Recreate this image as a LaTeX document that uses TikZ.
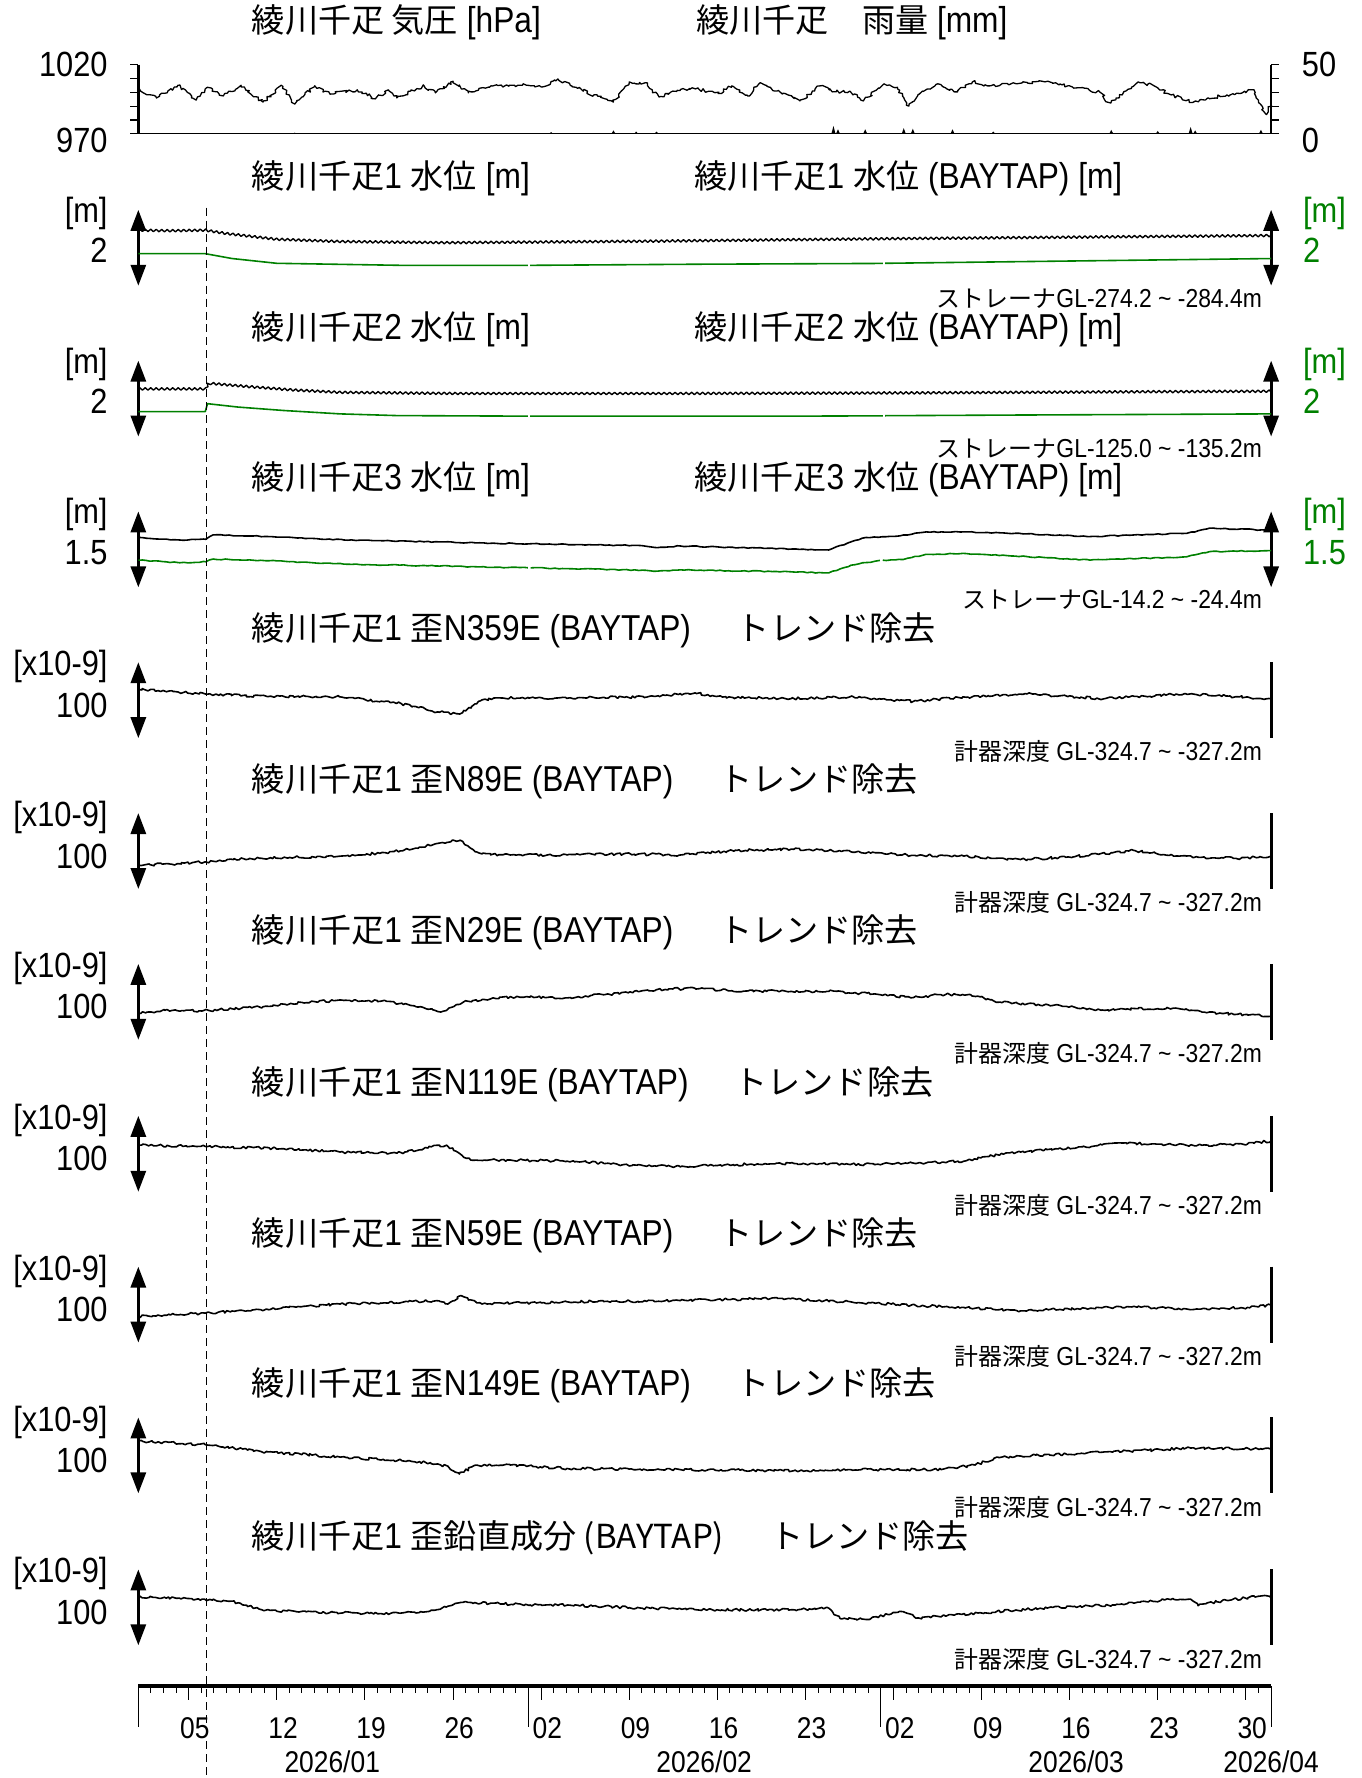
\documentclass[tikz,border=0pt]{standalone}
\usepackage{fontspec}
\setmainfont{Liberation Sans}[FakeStretch=0.88]
\newfontfamily\jp{Noto Sans CJK JP}[Scale=0.92]
\usetikzlibrary{arrows.meta,decorations.pathmorphing}
\definecolor{bgreen}{RGB}{0,128,0}
\begin{document}
\begin{tikzpicture}[x=1.13406pt,y=-1.13406pt,
  ttl/.style={anchor=west,inner sep=0,font=\fontsize{36}{40}\selectfont},
  lab/.style={anchor=east,inner sep=0,font=\fontsize{35}{40}\selectfont},
  rlab/.style={anchor=west,inner sep=0,font=\fontsize{35}{40}\selectfont},
  note/.style={anchor=east,inner sep=0,font=\fontsize{26}{30}\selectfont},
  dlab/.style={inner sep=0,font=\fontsize{30}{34}\selectfont},
  dbl/.style={line width=3pt,{Triangle[width=15pt,length=21pt]}-{Triangle[width=15pt,length=21pt]}},
  trc/.style={line width=1.6pt,line join=round},
  jag/.style={decorate,decoration={random steps,segment length=2.5pt,amplitude=1.3pt}},
  soft/.style={decorate,decoration={random steps,segment length=4pt,amplitude=0.5pt}},
  tide/.style={decorate,decoration={zigzag,segment length=5.5pt,amplitude=1.2pt}}]
\useasboundingbox (0,0) rectangle (1201,1568);
\pgfmathsetseed{11}

% pressure and rain
\node[ttl] (p0a) at (222,20) {{\jp 綾川千疋 気圧} [hPa]};
\node[ttl] (p0b) at (614,20) {{\jp 綾川千疋　雨量} [mm]};
\node[lab] (p0l1) at (95,57) {1020};
\node[lab] (p0l2) at (95,124) {970};
\node[rlab] (p0r1) at (1148,57) {50};
\node[rlab] (p0r2) at (1148,124) {0};
\draw[line width=2.5pt] (122,57) -- (122,118);
\draw[line width=2.5pt] (1121,57) -- (1121,118);
\foreach \y in {57,69.2,81.4,93.6,105.8,118}{
  \draw[line width=1.2pt] (115,\y) -- (122,\y);
  \draw[line width=1.2pt] (1121,\y) -- (1128,\y);
}
\draw[line width=1.3pt] (122,118) -- (1121,118);
\foreach \x/\h in {260/1,486/1.5,541/3,561/2,579/2,735/7,739/4,763/4,797/5,805/4.5,840/4,876/2,980/3.5,1021/2.5,1050/6,1054/3,1112/3.5}
  \fill (\x-1.8,118) -- (\x,118-\h) -- (\x+1.8,118) -- cycle;
\draw[trc,line width=1.3pt,jag,decoration={amplitude=1.7pt,segment length=2.2pt}] plot coordinates {(122,77) (124,80.3) (138,86.4) (148,80.3) (157.5,75.2) (173,88.3) (183,77) (197,84.6) (212.6,75.2) (232,90) (248,75.2) (260,91.8) (277.6,75.7) (291,83) (315,79.2) (331,87.2) (342.5,79.2) (350,86.4) (374,75.7) (384,81.9) (399.6,71.7) (413,81.9) (433,75.7) (456.7,75.2) (482,75.7) (492,69.6) (508,77) (523.6,83.7) (541,90) (555,72.2) (569,73) (581.2,85.6) (597.2,79.7) (613.3,78.4) (633.3,82.4) (645.3,75.7) (659.3,84.6) (669.3,73.9) (685.3,80.3) (705.4,89) (723.4,75.7) (737.4,81) (749.4,80.3) (761.4,89) (779.5,73.9) (791.5,77) (801.5,93.6) (813.5,80.3) (825.5,74.4) (841.5,81) (857.6,72.2) (873.6,75.7) (893.6,73) (921.6,72.2) (941.7,75.7) (969.7,81) (977.7,90.4) (989.7,83.7) (1003.7,72.2) (1017.8,75.7) (1029.8,82.4) (1051.8,90.4) (1065.8,86.4) (1093.9,82.4) (1105.9,79.2) (1109.9,90.4) (1117,101) (1121,91.8)};

% water level panels
\foreach \k/\T/\v/\n in {1/157/2/{274.2 \textasciitilde{} -284.4m},2/290/2/{125.0 \textasciitilde{} -135.2m},3/423/1.5/{14.2 \textasciitilde{} -24.4m}}{
  \node[ttl] (w\k a) at (222,\T) {{\jp 綾川千疋}\k{} {\jp 水位} [m]};
  \node[ttl] (w\k b) at (612,\T) {{\jp 綾川千疋}\k{} {\jp 水位} (BAYTAP) [m]};
  \node[lab] (w\k u) at (95,\T+31) {[m]};
  \node[lab] (w\k v) at (95,\T+64) {\v};
  \node[rlab,text=bgreen] (w\k gu) at (1149,\T+31) {[m]};
  \node[rlab,text=bgreen] (w\k gv) at (1149,\T+64) {\v};
  \draw[dbl] (122,\T+28) -- (122,\T+95);
  \draw[dbl] (1121,\T+28) -- (1121,\T+95);
  \node[note] (w\k n) at (1113,\T+106) {{\jp ストレーナ}GL-\n};
}
\draw[trc,line width=1.4pt,tide] plot coordinates {(122,203) (150,203.5) (181,203) (200,206) (244,211) (300,213) (394,214) (466,213.5) (573,212.7) (773,210.6) (974,208.9) (1121,207.7)};
\draw[trc,bgreen] plot coordinates {(122,223.7) (181,223.7) (204.7,228) (244,232.2) (354,234) (465.5,234)}
  plot coordinates {(467.5,234) (617,233) (778.5,232.3)}
  plot coordinates {(780.5,232.2) (1121,228)};
\draw[trc,line width=1.4pt,tide] plot coordinates {(122,343) (181,343) (184,338) (220,341) (260,344) (300,346) (400,347) (600,347) (800,346.5) (1000,345.5) (1121,345)};
\draw[trc,bgreen] plot coordinates {(122,363) (181,363) (183,356) (210,359) (250,362) (300,365) (350,366.5) (465.5,367)}
  plot coordinates {(467.5,367) (700,367) (778.5,366.7)}
  plot coordinates {(780.5,366.6) (900,366) (1121,365)};
\draw[trc,soft] plot coordinates {(122,474) (158.4,476.2) (181.5,475.6) (188,471.7) (237.4,473.2) (303.2,476.2) (434.8,479) (566.4,481.2) (579.6,483) (600,481.5) (698,484.2) (730.9,485) (747.3,479) (763.8,474) (793.4,472.6) (813,469.6) (842.8,468.8) (895.4,470.3) (961.2,473.2) (1046.7,470.3) (1066.5,465.8) (1112.5,467.3) (1121,466.7)};
\draw[trc,bgreen,soft] plot coordinates {(122,494) (158.4,496.3) (181.5,495.4) (188,493) (237.4,494.5) (303.2,497.5) (465.5,500.7)}
  plot coordinates {(468,500.8) (566.4,502.8) (579.6,503.7) (600,502.5) (698,504.3) (730.9,505.2) (750.6,498.4) (776,494.2)}
  plot coordinates {(778.5,494) (796.7,493.4) (816.4,488.9) (849.3,488) (895.4,490.4) (961.2,494) (1046.7,491) (1066.5,486.5) (1121,485.6)};

% strain panels
\foreach \s/\T/\nm in {1/556/N359E,2/689/N89E,3/822/N29E,4/956/N119E,5/1089/N59E,6/1222/N149E,7/1356/{\jp 鉛直成分}}{
  \node[ttl] (s\s a) at (222,\T) {{\jp 綾川千疋}1 {\jp 歪}\nm{} (BAYTAP)\hspace{46pt}{\jp トレンド除去}};
  \node[lab] (s\s u) at (95,\T+32) {[x10-9]};
  \node[lab] (s\s v) at (95,\T+66) {100};
  \draw[dbl] (122,\T+28) -- (122,\T+95);
  \draw[line width=3pt] (1121,\T+28) -- (1121,\T+95);
  \node[note] (s\s n) at (1113,\T+107) {{\jp 計器深度} GL-324.7 \textasciitilde{} -327.2m};
}
\draw[trc,jag] plot coordinates {(122,608) (181,612) (236,614.4) (299,614.4) (354,620.6) (386,627.8) (405.5,629.7) (425,617.2) (441,615.5) (492,615.5) (551,615) (573,614) (613,611) (637,614.7) (693,616.2) (749,614.7) (805.5,618.5) (853.5,614.7) (905.6,612) (973.7,616.2) (1045.8,611.8) (1121,616.2)};
\draw[trc,jag] plot coordinates {(122,763) (150,762) (181,760) (220,757) (260,756) (300,755) (340,752) (370,747) (390,743) (400,741) (408,742) (415,748) (425,753) (450,754) (500,754) (550,753) (600,754) (650,750) (700,749) (750,751) (800,754) (850,755) (900,758) (940,756) (980,752) (1000,750) (1040,755) (1090,757) (1121,755)};
\draw[trc,jag] plot coordinates {(122,893.9) (145.3,891) (178.2,891.6) (204.5,889.6) (237.4,887.5) (276.9,883.2) (303.2,882.3) (336.1,882.9) (355.8,885.8) (369,888.1) (388.7,892.5) (408.5,883.8) (434.8,880) (464.4,878.9) (500.6,880) (533.5,877.1) (566.4,873.7) (612.5,871.4) (645.4,873.7) (698,874.3) (730.9,874.3) (770.4,876.6) (803.3,880) (829.6,877.1) (856,877.1) (882.2,883.8) (928.3,886.7) (974.4,891) (994,889.6) (1040.2,889.6) (1060,892.5) (1121,896.2)};
\draw[trc,jag] plot coordinates {(122,1010) (181,1011) (250,1013) (300,1016) (350,1017) (370,1014) (385,1010) (395,1011) (405,1017) (415,1023) (450,1023) (500,1024) (550,1027) (600,1029) (650,1027) (700,1026) (750,1027) (800,1026) (850,1024) (870,1020) (900,1016) (950,1012) (990,1008) (1020,1009) (1060,1010) (1100,1009) (1121,1006)};
\draw[trc,jag] plot coordinates {(122,1161) (181,1158) (230,1155) (300,1150) (360,1148) (385,1147) (395,1150) (405,1143) (425,1150) (500,1148) (600,1147) (680,1145) (750,1148) (800,1151) (850,1153) (900,1156) (950,1154) (1000,1152) (1050,1155) (1100,1153) (1121,1151)};
\draw[trc,jag] plot coordinates {(122,1271) (181,1274) (230,1280) (300,1285) (370,1289) (395,1293) (405,1300) (420,1292) (450,1292) (500,1295) (600,1296) (700,1297) (750,1296) (800,1296) (830,1296) (860,1292) (880,1285) (950,1282) (1050,1277) (1121,1278)};
\draw[trc,jag] plot coordinates {(122,1408.2) (178.2,1410.2) (204.5,1412) (230.8,1419.6) (263.7,1421.6) (336.1,1423) (378.9,1421) (408.5,1413) (467.7,1415.4) (500.6,1415.4) (566.4,1418.2) (632.2,1419.6) (698,1419.6) (730.9,1418.2) (740.8,1427.3) (763.8,1428.2) (793.4,1421) (809.9,1426.8) (862.5,1422.5) (928.3,1417.6) (980.9,1415.4) (1027,1411) (1050,1410.2) (1056.6,1416) (1073,1412.5) (1112.5,1407.4) (1121,1409)};

% time axis
\draw[dashed,dash pattern=on 8pt off 5pt,line width=1.1pt] (182,183) -- (182,1568);
\draw[line width=3.5pt] (122,1487) -- (1121,1487);
\foreach \dd in {0,...,90}
  \draw[line width=1pt] (122+\dd*11.1,1487) -- (122+\dd*11.1,1493);
\foreach \dd/\lb in {4/05,11/12,18/19,25/26,32/02,39/09,46/16,53/23,60/02,67/09,74/16,81/23,88/30}{
  \draw[line width=1pt] (122+\dd*11.1,1487) -- (122+\dd*11.1,1499);
  \node[dlab] (d\dd) at (122+\dd*11.1+5.5,1524) {\lb};
}
\foreach \dd in {0,31,59,90}
  \draw[line width=1pt] (122+\dd*11.1,1487) -- (122+\dd*11.1,1523);
\node[dlab] (m1) at (293,1554) {2026/01};
\node[dlab] (m2) at (621,1554) {2026/02};
\node[dlab] (m3) at (949,1554) {2026/03};
\node[dlab] (m4) at (1121,1554) {2026/04};
\end{tikzpicture}
\end{document}
